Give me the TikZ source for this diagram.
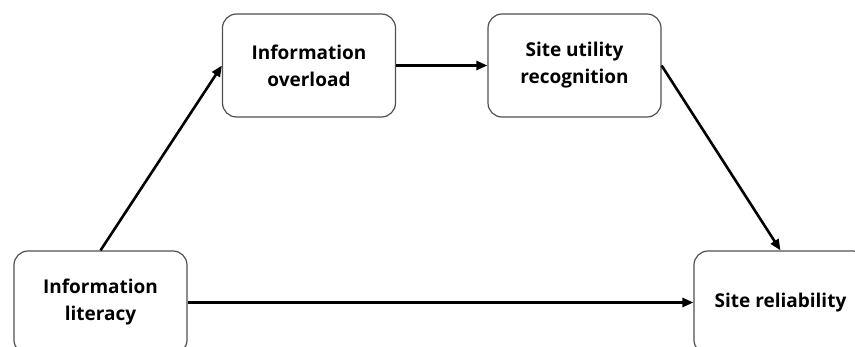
\documentclass[tikz,border=0pt]{standalone}
\usepackage{fontspec}
\setmainfont{Open Sans}
\usetikzlibrary{arrows.meta,positioning}
\definecolor{boxline}{HTML}{505050}

\begin{document}
\begin{tikzpicture}[x=1pt, y=-1pt,
  factor/.style={draw=boxline, line width=1.2pt, rounded corners=14pt, fill=white,
    minimum width=173pt, minimum height=103pt, align=center,
    font=\fontsize{19}{27}\selectfont\bfseries},
  link/.style={line width=2.6pt, -{Triangle[length=11pt,width=9pt]}}]
  % Frame
  \useasboundingbox (0,0) rectangle (855,346);
  \clip (0,0) rectangle (855,346);

  % Factors
  \node[factor] (literacy) at (100.5,302.5) {Information\\literacy};
  \node[factor] (overload) at (309,65.5) {Information\\overload};
  \node[factor] (utility) at (574.5,65.5) {Site utility\\recognition};
  \node[factor] (reliability) at (780.5,302.5) {Site reliability};

  % Paths
  \draw[link] (literacy.north) -- (overload.west);
  \draw[link] (overload) -- (utility);
  \draw[link] (utility.east) -- (reliability.north);
  \draw[link] (literacy) -- (reliability);
\end{tikzpicture}
\end{document}
